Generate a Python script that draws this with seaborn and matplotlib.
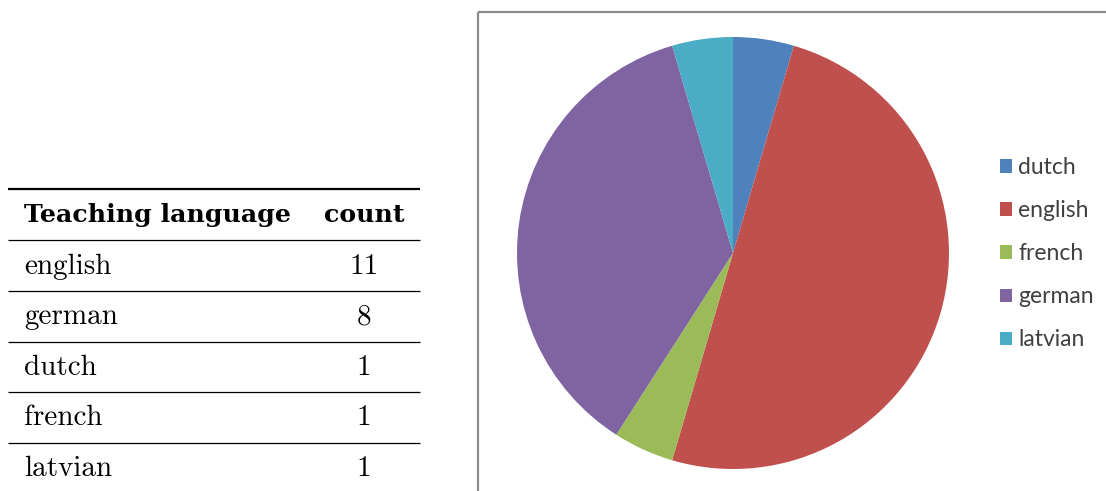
import matplotlib
matplotlib.use("Agg")
import matplotlib.pyplot as plt
from matplotlib.patches import Rectangle, Patch
import seaborn as sns

# Table data (sorted by count)
table_languages = ["english", "german", "dutch", "french", "latvian"]
table_counts = [11, 8, 1, 1, 1]
header = ["Teaching language", "count"]

# Pie data (alphabetical order)
pie_languages = ["dutch", "english", "french", "german", "latvian"]
pie_counts = [1, 11, 1, 8, 1]
pie_colors = ["#4F81BD", "#C0504D", "#9BBB59", "#8064A2", "#4BACC6"]

sns.set_theme(style="white")

W, H = 1106, 491
fig = plt.figure(figsize=(W / 100, H / 100), dpi=100)
fig.patch.set_facecolor("white")

# Background layer in pixel coordinates
bg = fig.add_axes([0, 0, 1, 1])
bg.set_xlim(0, W)
bg.set_ylim(H, 0)
bg.axis("off")

# Table rules
x0, x1 = 8, 420
bg.hlines(189, x0, x1, color="black", lw=1.6)
rule_ys = [240, 291, 342, 392, 443]
for y in rule_ys:
    bg.hlines(y, x0, x1, color="black", lw=0.9)

serif = "cmr10"
fs = 21
bold = dict(fontfamily="DejaVu Serif", fontweight="bold", fontsize=18.2, color="black")
bg.text(24, 215, header[0], va="center", ha="left", **bold)
bg.text(364, 215, header[1], va="center", ha="center", **bold)
row_y = [267, 317, 368, 418, 469]
for y, lang, cnt in zip(row_y, table_languages, table_counts):
    bg.text(24, y, lang, fontfamily=serif, fontsize=fs, va="center", ha="left", color="black")
    bg.text(364, y, str(cnt), fontfamily=serif, fontsize=fs, va="center", ha="center", color="black")

# Chart frame
bg.add_patch(Rectangle((478, 12), 700, 600, fill=False, edgecolor="#8C8C8C", lw=1.6))

# Pie chart
cx, cy, r = 733, 253, 216
pie_ax = fig.add_axes([(cx - r) / W, (H - cy - r) / H, 2 * r / W, 2 * r / H])
pie_ax.pie(pie_counts, colors=pie_colors, startangle=90, counterclock=False,
           wedgeprops=dict(linewidth=0))
pie_ax.set_xlim(-1, 1)
pie_ax.set_ylim(-1, 1)
pie_ax.set_aspect("equal")
pie_ax.axis("off")

# Legend
handles = [Patch(facecolor=c, edgecolor="none") for c in pie_colors]
leg = fig.legend(handles, pie_languages, loc="upper left",
                 bbox_to_anchor=(1000 / W, 1 - 157 / H),
                 frameon=False, prop={"family": "Lato", "size": 16.5},
                 handlelength=0.52, handleheight=0.52, handletextpad=0.28,
                 labelspacing=0.965, borderaxespad=0, borderpad=0)
for t in leg.get_texts():
    t.set_color("#404040")

fig.savefig("out.png", dpi=100, facecolor="white")
